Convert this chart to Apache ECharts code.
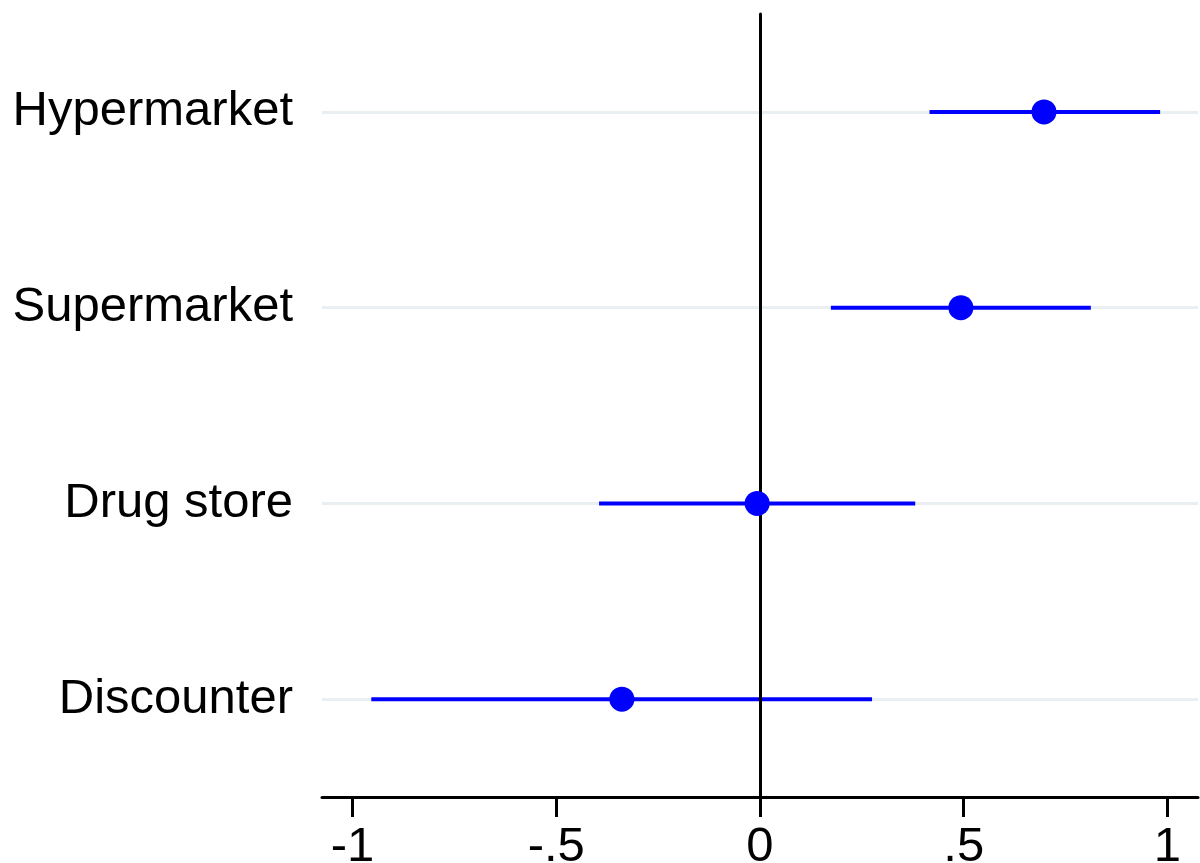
<!DOCTYPE html>
<html>
<head>
<meta charset="utf-8">
<script src="https://cdn.jsdelivr.net/npm/echarts@6/dist/echarts.min.js"></script>
<style>
  html, body { margin: 0; padding: 0; background: #fff; }
  #chart { width: 1200px; height: 863px; }
</style>
</head>
<body>
<div id="chart"></div>
<script>
// Store formats, listed top to bottom
const categories = ['Hypermarket', 'Supermarket', 'Drug store', 'Discounter'];
// Point estimates and 95% confidence bounds
const estimates = [0.697, 0.493, -0.007, -0.339];
const lower = [0.416, 0.174, -0.395, -0.954];
const upper = [0.982, 0.812, 0.381, 0.275];
// X-axis tick positions
const xTicks = [-1, -0.5, 0, 0.5, 1];

const fmt = v => String(v).replace(/^(-?)0\./, '$1.');

const barData = categories.map((c, i) => [lower[i], upper[i], c]);
const pointData = categories.map((c, i) => [estimates[i], c]);

const chart = echarts.init(document.getElementById('chart'));
chart.setOption({
  backgroundColor: '#ffffff',
  animation: false,
  grid: { left: 322, right: 2, top: 14, bottom: 66, containLabel: false, outerBoundsMode: 'none' },
  xAxis: {
    type: 'value',
    min: -1.075,
    max: 1.075,
    splitLine: { show: false },
    axisLine: { show: true, onZero: false, lineStyle: { color: '#000', width: 3 } },
    axisTick: { show: true, length: 20, customValues: xTicks, lineStyle: { color: '#000', width: 3 } },
    axisLabel: {
      customValues: xTicks,
      formatter: fmt,
      margin: 26,
      fontSize: 49,
      fontFamily: 'Liberation Sans, Arial, sans-serif',
      color: '#000'
    }
  },
  yAxis: {
    type: 'category',
    data: categories,
    inverse: true,
    boundaryGap: true,
    splitLine: { show: false },
    axisLine: { show: true, lineStyle: { color: '#000', width: 3 } },
    axisTick: { show: true, alignWithLabel: true, length: 20, lineStyle: { color: '#000', width: 3 } },
    axisLabel: {
      margin: 29,
      fontSize: 49,
      fontFamily: 'Liberation Sans, Arial, sans-serif',
      color: '#000'
    }
  },
  series: [
    {
      // light horizontal guide lines at each category
      type: 'scatter',
      data: [],
      silent: true,
      z: 1,
      markLine: {
        z: 1,
        symbol: 'none',
        silent: true,
        label: { show: false },
        lineStyle: { color: '#eaf0f1', width: 3, type: 'solid' },
        data: categories.map(c => ({ yAxis: c }))
      }
    },
    {
      // confidence intervals
      type: 'custom',
      data: barData,
      encode: { x: [0, 1], y: 2 },
      z: 2,
      renderItem: (params, api) => {
        const a = api.coord([api.value(0), api.value(2)]);
        const b = api.coord([api.value(1), api.value(2)]);
        return {
          type: 'line',
          shape: { x1: a[0], y1: a[1], x2: b[0], y2: b[1] },
          style: { stroke: '#0000ff', lineWidth: 4 }
        };
      }
    },
    {
      // zero reference line
      type: 'scatter',
      data: [],
      silent: true,
      z: 3,
      markLine: {
        z: 3,
        symbol: 'none',
        silent: true,
        label: { show: false },
        lineStyle: { color: '#000', width: 3, type: 'solid' },
        data: [{ xAxis: 0 }]
      }
    },
    {
      // point estimates
      type: 'scatter',
      data: pointData,
      symbol: 'circle',
      symbolSize: 25,
      itemStyle: { color: '#0000ff', opacity: 1 },
      z: 4
    }
  ]
});
</script>
</body>
</html>
